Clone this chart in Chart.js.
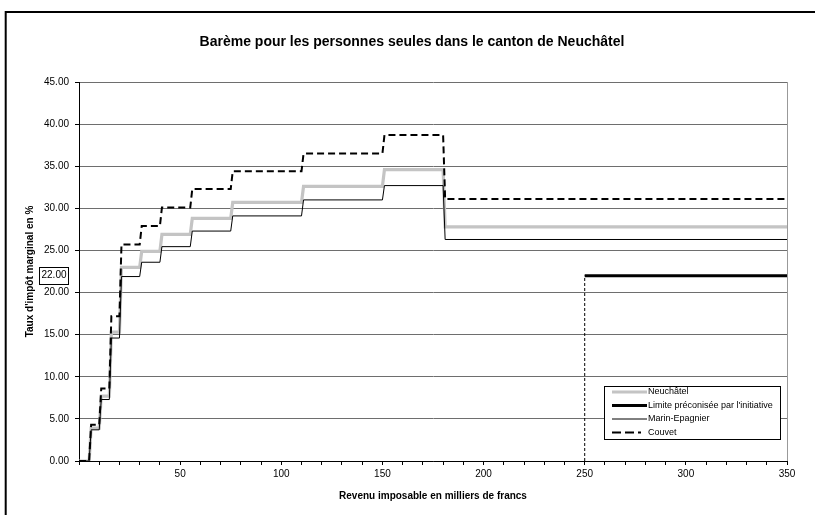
<!DOCTYPE html>
<html><head><meta charset="utf-8">
<script src="https://cdn.jsdelivr.net/npm/chart.js@4"></script>
<style>html,body{margin:0;padding:0;background:#fff}canvas{display:block}</style>
</head><body>
<canvas id="c" width="815" height="515"></canvas>
<script>
const chartTitle = "Barème pour les personnes seules dans le canton de Neuchâtel";
const xTitle = "Revenu imposable en milliers de francs";
const yTitle = "Taux d'impôt marginal en %";

// income brackets (thousands of francs)
const bracketFrom = [0, 6, 11, 16, 21, 31, 41, 56, 76, 111, 151, 181];
const bracketTo   = [5, 10, 15, 20, 30, 40, 55, 75, 110, 150, 180, 350];

// marginal rates (%)
const neuchatel = [0, 3.9, 7.7, 15.3, 23.0, 24.9, 26.9, 28.8, 30.7, 32.6, 34.6, 27.8];
const marin     = [0, 3.7, 7.3, 14.6, 21.9, 23.6, 25.45, 27.3, 29.1, 31.0, 32.7, 26.3];
const couvet    = [0, 4.3, 8.6, 17.2, 25.7, 27.9, 30.1, 32.3, 34.4, 36.5, 38.7, 31.1];

const limitIncome = [250, 350];
const limitRate   = [22, 22];
const dropIncome  = [250, 250];
const dropRate    = [0, 22];
const markedRate  = 22;

const seriesNames = ["Neuchâtel", "Limite préconisée par l'initiative", "Marin-Epagnier", "Couvet"];

function steps(rates) {
  const pts = [];
  rates.forEach((r, i) => { pts.push({x: bracketFrom[i], y: r}); pts.push({x: bracketTo[i], y: r}); });
  return pts;
}
function pairs(xs, ys) { return xs.map((x, i) => ({x, y: ys[i]})); }

const FONT = "'Liberation Sans', Arial, sans-serif";
Chart.defaults.font.family = FONT;
Chart.defaults.color = '#000';

const datasets = [
  {label: seriesNames[0], data: steps(neuchatel), borderColor: '#c4c4c4', borderWidth: 3.2, order: 4},
  {label: seriesNames[1], data: pairs(limitIncome, limitRate), borderColor: '#000', borderWidth: 3, order: 3},
  {label: seriesNames[2], data: steps(marin), borderColor: '#000', borderWidth: 1, order: 2},
  {label: seriesNames[3], data: steps(couvet), borderColor: '#000', borderWidth: 2, borderDash: [7, 4], order: 1},
  {label: 'drop', data: pairs(dropIncome, dropRate), borderColor: '#000', borderWidth: 1, borderDash: [3, 2], order: 5}
];
datasets.forEach(d => { d.pointRadius = 0; d.tension = 0; d.fill = false; d.borderCapStyle = 'butt'; });

const decor = {
  id: 'decor',
  beforeDraw(chart) {
    const c = chart.ctx;
    c.save();
    c.fillStyle = '#fff';
    c.fillRect(0, 0, chart.width, chart.height);
    c.strokeStyle = '#000';
    c.lineWidth = 2;
    c.strokeRect(5.7, 12, 900, 600);
    c.restore();
  },
  beforeDatasetsDraw(chart) {
    const a = chart.chartArea, c = chart.ctx;
    c.save();
    c.strokeStyle = '#999';
    c.lineWidth = 1;
    c.beginPath();
    c.moveTo(Math.round(a.right) + 0.5, a.top);
    c.lineTo(Math.round(a.right) + 0.5, a.bottom);
    c.stroke();
    c.restore();
  },
  afterDraw(chart) {
    const c = chart.ctx, a = chart.chartArea;
    const ys = chart.scales.y;
    c.save();
    // title
    c.fillStyle = '#000';
    c.font = 'bold 14px ' + FONT;
    c.textAlign = 'center';
    c.textBaseline = 'middle';
    c.fillText(chartTitle, 412, 42);
    // axis titles
    c.font = 'bold 10px ' + FONT;
    c.fillText(xTitle, (a.left + a.right) / 2, 496);
    c.save();
    c.translate(30, (a.top + a.bottom) / 2);
    c.rotate(-Math.PI / 2);
    c.fillText(yTitle, 0, 0);
    c.restore();
    // marked value box
    const yy = ys.getPixelForValue(markedRate);
    c.fillStyle = '#fff';
    c.fillRect(39, yy - 9, 30, 17);
    c.strokeStyle = '#000';
    c.lineWidth = 1;
    c.strokeRect(39.5, Math.round(yy - 9) + 0.5, 29, 17);
    c.fillStyle = '#000';
    c.font = '10px ' + FONT;
    c.textAlign = 'left';
    c.fillText(markedRate.toFixed(2), 41.5, yy);
    // legend
    const lx = 604.5, ly = 386.5, lw = 176, lh = 53;
    c.fillStyle = '#fff';
    c.fillRect(lx, ly, lw, lh);
    c.strokeStyle = '#000';
    c.strokeRect(lx, ly, lw, lh);
    c.font = '9px ' + FONT;
    c.textBaseline = 'middle';
    for (let i = 0; i < 4; i++) {
      const d = chart.data.datasets[i];
      const ry = 392 + i * 13.5;
      c.strokeStyle = d.borderColor;
      c.lineWidth = d.borderWidth;
      c.setLineDash(d.borderDash ? [9, 4] : []);
      c.beginPath();
      c.moveTo(612, ry);
      c.lineTo(d.borderDash ? 641 : 647, ry);
      c.stroke();
      c.setLineDash([]);
      c.fillStyle = '#000';
      c.fillText(d.label, 648, ry);
    }
    c.restore();
  }
};

new Chart(document.getElementById('c'), {
  type: 'line',
  data: {datasets},
  options: {
    responsive: false,
    animation: false,
    devicePixelRatio: 1,
    layout: {padding: {top: 82, right: 28, bottom: 0, left: 0}},
    plugins: {legend: {display: false}, title: {display: false}, tooltip: {enabled: false}},
    scales: {
      x: {
        type: 'linear', min: 0, max: 350,
        ticks: {stepSize: 10, autoSkip: false, maxRotation: 0, padding: 3,
          font: {size: 10}, color: '#000',
          callback: v => (v % 50 === 0 && v !== 0) ? String(v) : ''},
        grid: {drawOnChartArea: false, drawTicks: true, tickLength: 4, color: '#000'},
        border: {color: '#000', width: 1},
        afterFit: s => { s.height = 54; }
      },
      y: {
        min: 0, max: 45,
        ticks: {stepSize: 5, padding: 6, font: {size: 10}, color: '#000',
          callback: v => Number(v).toFixed(2)},
        grid: {color: '#6e6e6e', tickColor: '#000', tickLength: 4},
        border: {color: '#000', width: 1},
        afterFit: s => { s.width = 79; }
      }
    }
  },
  plugins: [decor]
});
</script>
</body></html>
